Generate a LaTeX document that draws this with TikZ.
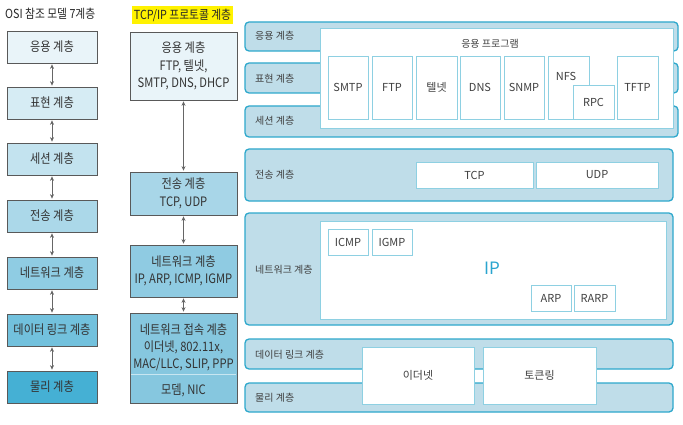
\documentclass[tikz,border=0pt]{standalone}
\usepackage{fontspec}
\setmainfont{Noto Sans CJK KR}
\newfontfamily\cond{Noto Sans CJK KR}[FakeStretch=0.86]
\usetikzlibrary{arrows.meta}
\definecolor{oa}{HTML}{E9F4F9}
\definecolor{ob}{HTML}{D6ECF4}
\definecolor{oc}{HTML}{C3E3EF}
\definecolor{od}{HTML}{ABD8E9}
\definecolor{oe}{HTML}{8FCCE3}
\definecolor{of}{HTML}{72C1DD}
\definecolor{og}{HTML}{45B0D4}
\definecolor{ta}{HTML}{E9F4F9}
\definecolor{tb}{HTML}{A8D6E8}
\definecolor{tc}{HTML}{8FCBE2}
\definecolor{td}{HTML}{86C7DF}
\definecolor{bandline}{HTML}{2EA8CC}
\definecolor{bandfill}{HTML}{BFDDE9}
\definecolor{inline}{HTML}{8ED0E2}
\definecolor{ipcol}{HTML}{2AA5CF}
\definecolor{hl}{HTML}{FFF200}
\begin{document}
\begin{tikzpicture}[x=1pt,y=-1pt,
  osibox/.style={draw=black!65, line width=0.7pt, minimum width=90pt, minimum height=32pt, inner sep=0pt,
    font=\cond\fontsize{13}{16}\selectfont, text=black!80},
  tcpbox/.style={draw=black!65, line width=0.7pt, minimum width=107pt, inner sep=0pt, align=center,
    font=\cond\fontsize{13}{17.5}\selectfont, text=black!80},
  ttext/.style={inner sep=0pt, align=center, font=\cond\fontsize{13}{17}\selectfont, text=black!80},
  band/.style={draw=bandline, fill=bandfill, line width=1.3pt, rounded corners=4pt, inner sep=0pt},
  blabel/.style={anchor=west, inner sep=0pt, font=\fontsize{10}{12}\selectfont, text=black!75},
  inbox/.style={draw=inline, fill=white, line width=0.8pt, inner sep=0pt, font=\fontsize{11}{13}\selectfont, text=black!75},
  darrow/.style={<->, >={Stealth[length=4.5pt,width=4pt]}, draw=black!60, line width=0.7pt, shorten >=1pt, shorten <=1pt},
  ttl/.style={inner sep=0pt, font=\cond\fontsize{12.5}{15}\selectfont, text=black!85}
]
\useasboundingbox (0,0) rectangle (683,425);
\fill[white] (0,0) rectangle (683,425);

% ---------- OSI column ----------
\node[ttl, anchor=west] (osititle) at (5,14) {OSI 참조 모델 7계층};
\node[osibox, fill=oa] (o1) at (52,47) {응용 계층};
\node[osibox, fill=ob] (o2) at (52,103) {표현 계층};
\node[osibox, fill=oc] (o3) at (52,159) {세션 계층};
\node[osibox, fill=od] (o4) at (52,216) {전송 계층};
\node[osibox, fill=oe] (o5) at (52,273) {네트워크 계층};
\node[osibox, fill=of] (o6) at (52,330) {데이터 링크 계층};
\node[osibox, fill=og] (o7) at (52,387) {물리 계층};
\foreach \a/\b in {o1/o2,o2/o3,o3/o4,o4/o5,o5/o6,o6/o7}
  \draw[darrow] (\a.south) -- (\b.north);

% ---------- TCP/IP column ----------
\node[ttl, fill=hl, inner xsep=1.5pt, inner ysep=2.5pt] (tcptitle) at (182.5,15) {TCP/IP 프로토콜 계층};
\node[tcpbox, fill=ta, minimum height=68pt] (tapp) at (183.5,66) {응용 계층\\FTP, 텔넷,\\SMTP, DNS, DHCP};
\node[tcpbox, fill=tb, minimum height=43pt] (ttrans) at (183.5,193.5) {전송 계층\\TCP, UDP};
\node[tcpbox, fill=tc, minimum height=52pt] (tnet) at (183.5,271) {네트워크 계층\\IP, ARP, ICMP, IGMP};
\node[tcpbox, fill=td, minimum height=90pt] (tacc) at (183.5,358) {};
\draw[white!55!td, line width=0.6pt] (131,374) -- (236,374);
\node[ttext] (tacc1) at (183.5,347) {네트워크 접속 계층\\이더넷, 802.11x,\\MAC/LLC, SLIP, PPP};
\node[ttext] (tacc2) at (183.5,390) {모뎀, NIC};
\draw[darrow] (tapp.south) -- (ttrans.north);
\draw[darrow] (ttrans.south) -- (tnet.north);
\draw[darrow] (tnet.south) -- (tacc.north);

% ---------- Right bands ----------
\node[band, minimum width=433pt, minimum height=29pt] (bapp) at (461.5,36.5) {};
\node[band, minimum width=433pt, minimum height=30pt] (bpres) at (461.5,78) {};
\node[band, minimum width=433pt, minimum height=31pt] (bsess) at (461.5,121.5) {};
\node[band, minimum width=428pt, minimum height=52pt] (btrans) at (459,175) {};
\node[band, minimum width=428pt, minimum height=112pt] (bnet) at (459,269) {};
\node[band, minimum width=428pt, minimum height=30pt] (bdl) at (459,354) {};
\node[band, minimum width=428pt, minimum height=29pt] (bphy) at (459,397.5) {};

\node[blabel] (lapp) at (255,36) {응용 계층};
\node[blabel] (lpres) at (255,79) {표현 계층};
\node[blabel] (lsess) at (255,121) {세션 계층};
\node[blabel] (ltrans) at (255,175) {전송 계층};
\node[blabel] (lnet) at (255,270) {네트워크 계층};
\node[blabel] (ldl) at (255,355) {데이터 링크 계층};
\node[blabel] (lphy) at (255,398) {물리 계층};

% application programs
\node[inbox, minimum width=353pt, minimum height=100pt] (appbox) at (496.5,78) {};
\node[inner sep=0pt, font=\fontsize{10}{12}\selectfont, text=black!75] (apptitle) at (490,44) {응용 프로그램};
\node[inbox, minimum width=40pt, minimum height=63pt] (smtp) at (348,87.5) {SMTP};
\node[inbox, minimum width=40pt, minimum height=63pt] (ftp) at (392,87.5) {FTP};
\node[inbox, minimum width=41pt, minimum height=63pt] (telnet) at (436.5,87.5) {텔넷};
\node[inbox, minimum width=40pt, minimum height=63pt] (dns) at (480,87.5) {DNS};
\node[inbox, minimum width=40pt, minimum height=63pt] (snmp) at (524,87.5) {SNMP};
\node[inbox, minimum width=41pt, minimum height=63pt] (nfs) at (568.5,87.5) {};
\node[inner sep=0pt, font=\fontsize{11}{13}\selectfont, text=black!75] (nfslabel) at (566,76) {NFS};
\node[inbox, minimum width=41pt, minimum height=34pt] (rpc) at (593.5,102) {RPC};
\node[inbox, minimum width=41pt, minimum height=63pt] (tftp) at (637.5,87.5) {TFTP};

% transport
\node[inbox, minimum width=117pt, minimum height=26pt] (tcp) at (474.5,175) {TCP};
\node[inbox, minimum width=122pt, minimum height=26pt] (udp) at (597,175) {UDP};

% network
\node[inbox, minimum width=346pt, minimum height=98pt] (ipbox) at (493,270) {};
\node[inner sep=0pt, font=\fontsize{17}{20}\selectfont, text=ipcol] (iplabel) at (492,268) {IP};
\node[inbox, minimum width=40pt, minimum height=26pt] (icmp) at (348,242) {ICMP};
\node[inbox, minimum width=40pt, minimum height=26pt] (igmp) at (392,242) {IGMP};
\node[inbox, minimum width=40pt, minimum height=26pt] (arp) at (551,298) {ARP};
\node[inbox, minimum width=41pt, minimum height=26pt] (rarp) at (594.5,298) {RARP};

% data link / physical
\node[inbox, minimum width=112pt, minimum height=57pt] (ether) at (418,375.5) {이더넷};
\node[inbox, minimum width=113pt, minimum height=57pt] (token) at (539.5,375.5) {토큰링};
\end{tikzpicture}
\end{document}
